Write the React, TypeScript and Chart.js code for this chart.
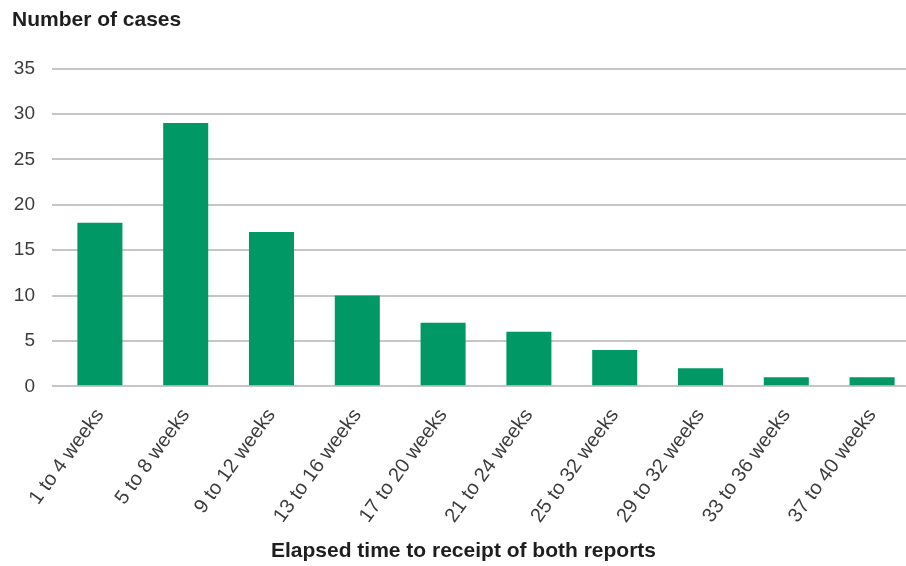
import React, { useEffect, useRef } from "react";
import { Chart, registerables } from "chart.js";

Chart.register(...registerables);

const categories: string[] = [
  "1 to 4 weeks",
  "5 to 8 weeks",
  "9 to 12 weeks",
  "13 to 16 weeks",
  "17 to 20 weeks",
  "21 to 24 weeks",
  "25 to 32 weeks",
  "29 to 32 weeks",
  "33 to 36 weeks",
  "37 to 40 weeks",
];

const cases: number[] = [18, 29, 17, 10, 7, 6, 4, 2, 1, 1];

const yTicks: number[] = [0, 5, 10, 15, 20, 25, 30, 35];

const yTitle = "Number of cases";
const xTitle = "Elapsed time to receipt of both reports";

const GREEN = "#009966";
const GRID = "#c6c6c6";
const TEXT = "#3c3c3c";
const FONT = "'Liberation Sans', Arial, Helvetica, sans-serif";

export default function App() {
  const canvasRef = useRef<HTMLCanvasElement | null>(null);

  useEffect(() => {
    const canvas = canvasRef.current;
    if (!canvas) return;
    const chart = new Chart(canvas, {
      type: "bar",
      data: {
        labels: categories,
        datasets: [
          {
            label: yTitle,
            data: cases,
            backgroundColor: GREEN,
            borderWidth: 0,
            categoryPercentage: 1,
            barPercentage: 0.525,
          },
        ],
      },
      options: {
        animation: false,
        responsive: false,
        maintainAspectRatio: false,
        layout: { padding: { left: 12, right: 0, top: 0, bottom: 0 } },
        plugins: {
          legend: { display: false },
          tooltip: { enabled: false },
          title: {
            display: true,
            text: yTitle,
            align: "start",
            color: "#1e1e1e",
            font: { family: FONT, size: 21, weight: "bold" },
            padding: { top: 7.5, bottom: 35.8 },
          },
          subtitle: {
            display: true,
            text: xTitle,
            position: "bottom",
            align: "center",
            color: "#1e1e1e",
            font: { family: FONT, size: 21, weight: "bold" },
            padding: { top: 0, bottom: 2.5 },
          },
        },
        scales: {
          x: {
            offset: true,
            grid: { display: false, drawTicks: false },
            border: { display: false },
            ticks: {
              color: TEXT,
              font: { family: FONT, size: 20 },
              maxRotation: 54,
              minRotation: 54,
              padding: 18,
              autoSkip: false,
            },
            afterFit: (s: any) => {
              s.height = 152;
            },
          },
          y: {
            min: 0,
            max: 35,
            afterBuildTicks: (s: any) => {
              s.ticks = yTicks.map((v) => ({ value: v }));
            },
            grid: {
              color: GRID,
              lineWidth: 2,
              drawTicks: true,
              tickLength: 5,
            },
            border: { display: false },
            ticks: {
              color: TEXT,
              font: { family: FONT, size: 19 },
              padding: 17,
            },
            afterFit: (s: any) => {
              s.width = 45;
            },
          },
        },
      },
    });
    return () => chart.destroy();
  }, []);

  return (
    <div
      style={{
        position: "fixed",
        left: 0,
        top: 0,
        width: 906,
        height: 566,
        overflow: "hidden",
        background: "#ffffff",
      }}
    >
      <canvas
        ref={canvasRef}
        width={915}
        height={566}
        style={{ display: "block", width: 915, height: 566 }}
      />
    </div>
  );
}
